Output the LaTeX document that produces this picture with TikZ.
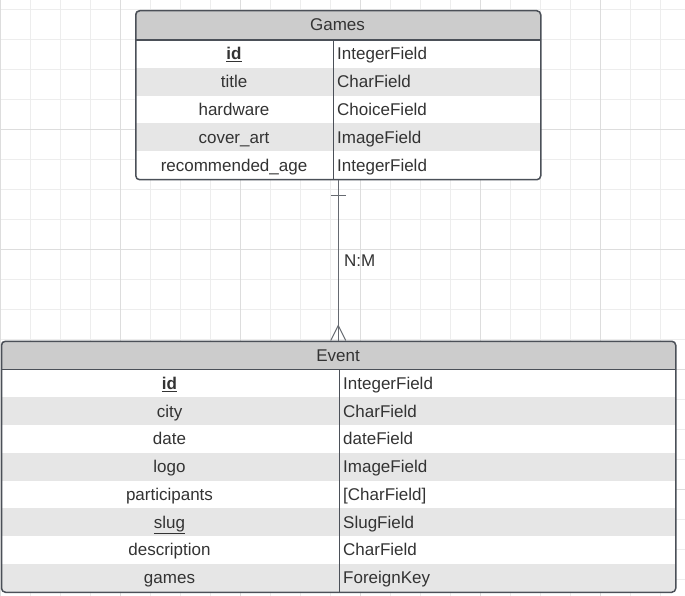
\documentclass[tikz,border=0pt]{standalone}
\usepackage{fontspec}
\setmainfont{Liberation Sans}
\usepackage{tikz}
\usetikzlibrary{positioning}
\definecolor{gridminor}{HTML}{EDEDED}
\definecolor{gridmajor}{HTML}{DDDDDD}
\definecolor{frame}{HTML}{4B5058}
\definecolor{headfill}{HTML}{CCCCCC}
\definecolor{rowfill}{HTML}{E6E6E6}
\definecolor{ink}{HTML}{333333}
\tikzset{
  tablebox/.style={draw=frame, line width=1.5pt, rounded corners=4pt, inner sep=0pt, anchor=north west},
  fieldname/.style={text=ink, font=\fontsize{17}{20}\selectfont, inner sep=0pt, anchor=base},
  fieldtype/.style={fieldname, anchor=base west},
  rel/.style={draw=frame!85, line width=1pt},
}

\begin{document}
\begin{tikzpicture}[x=1pt,y=-1pt]
      \useasboundingbox (0,0) rectangle (685,596);
      \fill[white] (0,0) rectangle (685,596);
      % background grid
      \foreach \x in {0,...,22} \draw[gridminor, line width=1pt] (0.5+30*\x,0) -- (0.5+30*\x,596);
      \foreach \y in {0,...,19} \draw[gridminor, line width=1pt] (0,9.5+30*\y) -- (685,9.5+30*\y);
      \foreach \x in {0,...,5} \draw[gridmajor, line width=1pt] (0.5+120*\x,0) -- (0.5+120*\x,596);
      \foreach \y in {1,...,4} \draw[gridmajor, line width=1pt] (0,9.5+120*\y) -- (685,9.5+120*\y);
      % Games
      \begin{scope}
        \clip[rounded corners=4pt] (135,10) rectangle (540,179);
        \fill[white] (135,10) rectangle (540,179);
        \fill[headfill] (135,10) rectangle (540,40);
        \foreach \r in {1,3} \fill[rowfill] (135,40+27.8*\r) rectangle (540,40+27.8*\r+27.8);
      \end{scope}
      \draw[frame, line width=1.5pt] (135,40) -- (540,40);
      \draw[frame, line width=1pt] (333,40) -- (333,179);
      \node[tablebox, minimum width=405pt, minimum height=169pt] (games) at (135,10) {};
      \node[fieldname] (games-head) at (337.5,31) {Games};
      \foreach \n/\t [count=\i from 0] in {{\textbf{\underline{id}}}/IntegerField, title/CharField, hardware/ChoiceField, cover\_art/ImageField, recommended\_age/IntegerField} {
        \node[fieldname] (games-n\i) at (234,40+27.8*\i+20) {\n};
        \node[fieldtype] (games-t\i) at (337,40+27.8*\i+20) {\t};
      }
      % Event
      \begin{scope}
        \clip[rounded corners=4pt] (0.75,340.5) rectangle (675,591.5);
        \fill[white] (0.75,340.5) rectangle (675,591.5);
        \fill[headfill] (0.75,340.5) rectangle (675,369.5);
        \foreach \r in {1,3,5,7} \fill[rowfill] (0.75,369.5+27.75*\r) rectangle (675,369.5+27.75*\r+27.75);
      \end{scope}
      \draw[frame, line width=1.5pt] (0.75,369.5) -- (675,369.5);
      \draw[frame, line width=1pt] (339,369.5) -- (339,591.5);
      \node[tablebox, minimum width=674.25pt, minimum height=251pt] (event) at (0.75,340.5) {};
      \node[fieldname] (event-head) at (338,361) {Event};
      \foreach \n/\t [count=\i from 0] in {{\textbf{\underline{id}}}/IntegerField, city/CharField, date/dateField, logo/ImageField, participants/{[CharField]}, \underline{slug}/SlugField, description/CharField, games/ForeignKey} {
        \node[fieldname] (event-n\i) at (169.5,369.5+27.75*\i+19.9) {\n};
        \node[fieldtype] (event-t\i) at (343,369.5+27.75*\i+19.9) {\t};
      }
      % relation
      \coordinate (gfoot) at (games.south);
      \coordinate (ehead) at (gfoot |- event.north);
      \draw[rel] (gfoot) -- (ehead);
      \coordinate[below=15pt of gfoot] (one);
      \draw[rel] ([xshift=-7.5pt]one) -- ([xshift=7.5pt]one);
      \coordinate[above=15pt of ehead] (many);
      \draw[rel] ([xshift=-7.5pt]ehead) -- (many) -- ([xshift=7.5pt]ehead);
      \node[fieldtype] (card) at (344,266) {N:M};
\end{tikzpicture}
\end{document}
